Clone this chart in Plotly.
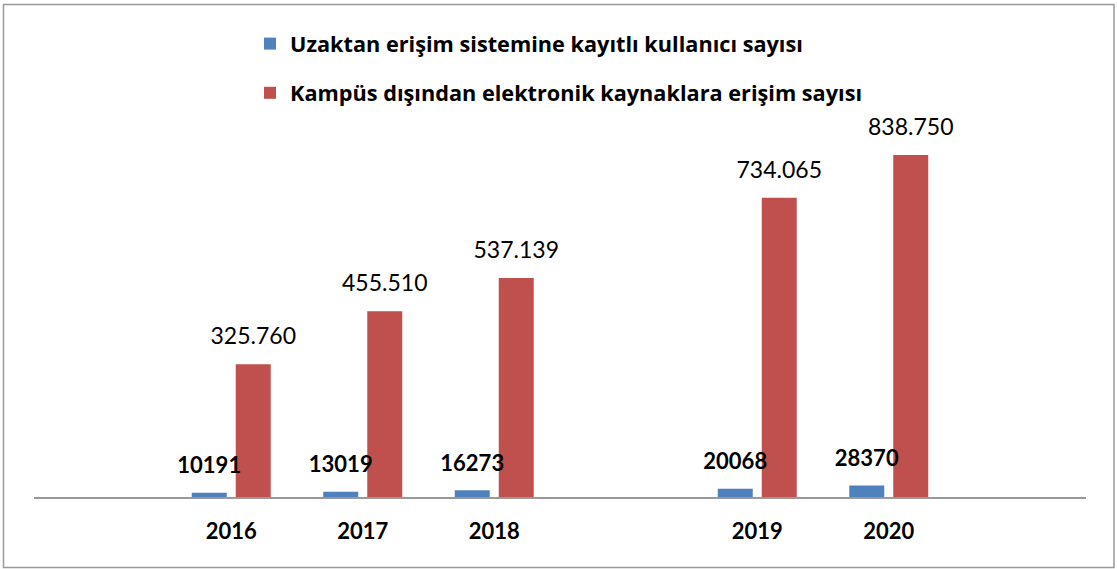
import plotly.graph_objects as go

# ---- data ----
years = ["2016", "2017", "2018", "2019", "2020"]
registered_users = [10191, 13019, 16273, 20068, 28370]
offcampus_access = [325760, 455510, 537139, 734065, 838750]
series_names = [
    "Uzaktan erişim sistemine kayıtlı kullanıcı sayısı",
    "Kampüs dışından elektronik kaynaklara erişim sayısı",
]
# category slots on the axis (blank slots as in the original sheet)
axis_slots = [" ", "2016", "2017", "2018", "  ", "2019", "2020", "   "]

# ---- layout constants ----
W, H = 1117, 569
ML, MR, MT, MB = 34, 31, 130, 72
PW, PH = W - ML - MR, H - MT - MB
FONT = "Lato"
LEG_FONT = "Open Sans"
BLUE = "#4F81BD"
RED = "#C0504D"
GAP = 0.331


def px_x(x):
    return (x - ML) / PW


def px_y(y):
    return (H - MB - y) / PH


def dotted(v):
    return f"{v:,}".replace(",", ".")


fig = go.Figure()
fig.add_trace(go.Bar(
    x=years, y=registered_users, name="<b>" + series_names[0] + "</b>",
    marker=dict(color=BLUE, line=dict(width=0)),
    legendgroup="a", offsetgroup="a", hoverinfo="skip",
))
fig.add_trace(go.Bar(
    x=years, y=offcampus_access, name="<b>" + series_names[1] + "</b>",
    marker=dict(color=RED, line=dict(width=0)),
    legendgroup="b", offsetgroup="b", hoverinfo="skip",
))

# value labels (text traces grouped the same way as the bars)
fig.add_trace(go.Scatter(
    x=years, y=registered_users, mode="markers+text",
    text=[f"<b>{v}</b>" for v in registered_users],
    textposition="top center",
    textfont=dict(family=FONT, size=22, color="black"),
    marker=dict(size=21, opacity=0, color=BLUE),
    offsetgroup="a", orientation="v", cliponaxis=False,
    showlegend=False, hoverinfo="skip",
))
fig.add_trace(go.Scatter(
    x=years, y=offcampus_access, mode="markers+text",
    text=[dotted(v) for v in offcampus_access],
    textposition="top center",
    textfont=dict(family=FONT, size=23, color="black"),
    marker=dict(size=21, opacity=0, color=RED),
    offsetgroup="b", orientation="v", cliponaxis=False,
    showlegend=False, hoverinfo="skip",
))

fig.update_layout(
    width=W, height=H,
    margin=dict(l=ML, r=MR, t=MT, b=MB),
    paper_bgcolor="white", plot_bgcolor="white",
    barmode="group", bargap=GAP, bargroupgap=0.2045,
    scattermode="group", scattergap=GAP,
    showlegend=True,
    legend=dict(
        x=px_x(250), y=px_y(23), xanchor="left", yanchor="top",
        orientation="v", tracegroupgap=18, traceorder="grouped",
        bgcolor="rgba(0,0,0,0)",
        font=dict(family=LEG_FONT, size=21.7, color="black"),
    ),
    xaxis=dict(
        type="category", categoryorder="array", categoryarray=axis_slots,
        range=[-0.5, len(axis_slots) - 0.5],
        tickvals=axis_slots, ticktext=[f"<b>{s}</b>" for s in axis_slots],
        showline=True, linecolor="#999999", linewidth=1.5,
        showgrid=False, zeroline=False, ticks="",
        ticklabelstandoff=14,
        tickfont=dict(family=FONT, size=22, color="black"),
    ),
    yaxis=dict(range=[0, 900000], visible=False, showgrid=False, zeroline=False),
    shapes=[dict(
        type="rect", xref="paper", yref="paper",
        x0=px_x(3.5), x1=px_x(1114), y0=px_y(567.5), y1=px_y(4.5),
        line=dict(color="#999999", width=1.5),
    )],
)

fig.write_html("out.html", config={"displayModeBar": False},
               post_script="document.body.style.margin='0';")
